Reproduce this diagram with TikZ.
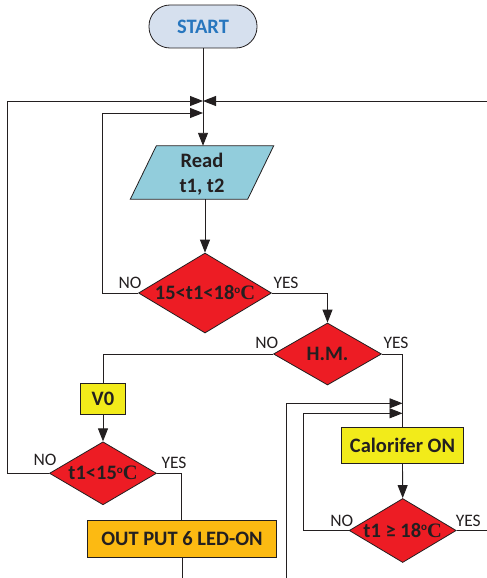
\documentclass[tikz,border=0pt]{standalone}
\usepackage{fontspec}
\setmainfont{Carlito}
\newfontfamily\degfont{Liberation Serif}
\usetikzlibrary{arrows.meta,shapes.geometric}

\definecolor{ink}{RGB}{35,31,32}
\definecolor{startfill}{RGB}{214,224,238}
\definecolor{startblue}{RGB}{39,118,190}
\definecolor{readfill}{RGB}{146,205,220}
\definecolor{decred}{RGB}{237,28,36}
\definecolor{boxyellow}{RGB}{242,235,26}
\definecolor{boxorange}{RGB}{252,186,18}

% temperature unit: small raised o followed by a serif C
\newcommand{\degC}{\raisebox{6.5pt}{\fontsize{11}{11}\selectfont o}{\degfont\bfseries C}}

\tikzset{
  boxfont/.style={font=\fontsize{20.5}{25}\selectfont\bfseries, text=ink},
  lblfont/.style={font=\fontsize{17.5}{20}\selectfont, text=ink, inner sep=0pt},
  terminal/.style={boxfont, draw=ink, line width=0.8pt, fill=startfill,
    rounded corners=21pt, minimum width=108pt, minimum height=43pt,
    text=startblue, inner sep=0pt},
  procbox/.style={boxfont, draw=ink, line width=0.8pt, inner sep=0pt},
  decision/.style={boxfont, diamond, draw=ink, line width=0.8pt,
    fill=decred, inner sep=0pt},
  flow/.style={draw=ink, line width=0.9pt},
  arr/.style={flow, -{Triangle[length=13pt,width=10pt]}},
}

\begin{document}
\begin{tikzpicture}[x=1pt,y=-1pt]
\useasboundingbox (0,0) rectangle (487,578);

% ---- nodes ----
\node[terminal] (start) at (203,26.5) {START};

% input/output parallelogram: text node plus its outline
\node[boxfont, minimum width=117pt, minimum height=53pt, inner sep=0pt,
      align=center] (read) at (202,172.5) {};
\filldraw[fill=readfill, draw=ink, line width=0.8pt]
  ([xshift=13pt]read.north west) -- ([xshift=13pt]read.north east)
  -- ([xshift=-13pt]read.south east) -- ([xshift=-13pt]read.south west) -- cycle;
\node[boxfont, align=center] at ([yshift=-1.5pt]read.center) {Read\\t1, t2};

\node[decision, minimum width=133pt, minimum height=80pt] (d1) at (205,293)
  {\makebox[0pt]{15<t1<18\degC}};
\node[decision, minimum width=108pt, minimum height=62pt] (d2) at (327.5,354)
  {\makebox[0pt]{H.M.}};
\node[procbox, fill=boxyellow, minimum width=45pt, minimum height=31pt] (v0)
  at (103,398.7) {V0};
\node[decision, minimum width=107pt, minimum height=63pt] (d3) at (103,473.3)
  {\makebox[0pt]{t1<15\degC}};
\node[procbox, fill=boxorange, minimum width=189pt, minimum height=37pt] (out)
  at (182,538.7) {OUT PUT 6 LED-ON};
\node[procbox, fill=boxyellow, minimum width=122pt, minimum height=36pt] (cal)
  at (402.5,445.5) {Calorifer ON};
\node[decision, minimum width=107pt, minimum height=64pt] (d4) at (402.7,530.5)
  {\makebox[0pt]{t1 ≥ 18\degC}};

% ---- junction and free-end coordinates ----
\coordinate (j1) at (203,101);
\coordinate (j2) at (203,113);
\coordinate (rin) at (487,101);
\coordinate (k1) at (402.5,403.3);
\coordinate (k2) at (402.5,413.3);
\coordinate (lin) at (286.7,578);
\coordinate (outend) at (182,578);
\coordinate (yesend) at (487,530.5);

% ---- connectors ----
\draw[arr] (start.south) -- (start.south |- read.north);
\draw[arr] (d1.north |- read.south) -- (d1.north);
\draw[arr] (d1.east) -| (d2.north);
\draw[flow] (d2.west) -| (v0.north);
\draw[arr] (v0.south) -- (d3.north);
\draw[flow] (d3.east) -| ([xshift=-1pt]out.north);
\draw[flow] (out.south) -- (outend);
\draw[flow] (d2.east) -| (cal.north);
\draw[arr] (cal.south) -- (d4.north);
\draw[flow] (d4.east) -- (yesend);

% return loops
\draw[arr] (d3.west) -- (7,473.3) |- (j1);
\draw[arr] (rin) -- (j1);
\draw[arr] (d1.west) -- (102.7,293) |- (j2);
\draw[arr] (lin) |- (k1);
\draw[arr] (d4.west) -- (303.3,530.5) |- (k2);

% ---- branch labels ----
\node[lblfont] at (130,283) {NO};
\node[lblfont] at (286,283) {YES};
\node[lblfont] at (266.7,342.7) {NO};
\node[lblfont] at (396,342.7) {YES};
\node[lblfont] at (45,460) {NO};
\node[lblfont] at (174,462.7) {YES};
\node[lblfont] at (341.7,520.7) {NO};
\node[lblfont] at (468.3,520.7) {YES};
\end{tikzpicture}
\end{document}
